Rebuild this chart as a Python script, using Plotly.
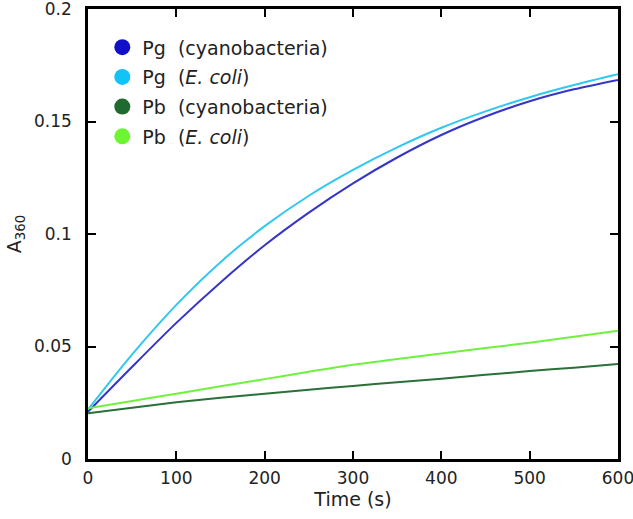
import plotly.graph_objects as go

# Time points (s)
time_s = [0, 50, 100, 150, 200, 250, 300, 350, 400, 450, 500, 550, 600]

# A360 readings
pg_cyano = [0.0210, 0.0410, 0.0605, 0.0785, 0.0950, 0.1095, 0.1225, 0.1340, 0.1440, 0.1522, 0.1590, 0.1643, 0.1685]
pg_ecoli = [0.0220, 0.0465, 0.0685, 0.0875, 0.1035, 0.1170, 0.1285, 0.1385, 0.1472, 0.1545, 0.1608, 0.1662, 0.1710]
pb_cyano = [0.0203, 0.0228, 0.0252, 0.0272, 0.0290, 0.0308, 0.0325, 0.0341, 0.0357, 0.0374, 0.0391, 0.0406, 0.0422]
pb_ecoli = [0.0225, 0.0258, 0.0290, 0.0323, 0.0355, 0.0388, 0.0419, 0.0444, 0.0469, 0.0493, 0.0517, 0.0543, 0.0570]

series_names = ["Pg  (cyanobacteria)", "Pg  (<i>E. coli</i>)", "Pb  (cyanobacteria)", "Pb  (<i>E. coli</i>)"]
series_values = [pg_cyano, pg_ecoli, pb_cyano, pb_ecoli]
line_colors = ["#3535c8", "#30c8f0", "#2a7038", "#70f040"]
legend_colors = ["#1010c8", "#10c4f8", "#1f6a2e", "#6cf530"]

x_ticks = [0, 100, 200, 300, 400, 500, 600]
y_ticks = [0, 0.05, 0.1, 0.15, 0.2]
y_ticklabels = ["0", "0.05", "0.1", "0.15", "0.2"]

FONT = "DejaVu Sans"

fig = go.Figure()
for name, vals, col in zip(series_names, series_values, line_colors):
    fig.add_trace(go.Scatter(x=time_s, y=vals, mode="lines", line=dict(color=col, width=2),
                             line_shape="spline", line_smoothing=0.8,
                             showlegend=False, hoverinfo="skip"))
for i, (name, col) in enumerate(zip(series_names, legend_colors)):
    fig.add_trace(go.Scatter(x=[None], y=[None], mode="markers", name=name,
                             marker=dict(color=col, size=18), legendgroup=str(i)))

axis_common = dict(showline=True, linecolor="black", linewidth=2.5, mirror="ticks",
                   ticks="inside", ticklen=8, tickwidth=2, tickcolor="black",
                   showgrid=False, zeroline=False, ticklabeloverflow="allow",
                   automargin=False)

fig.update_layout(
    width=633, height=519, autosize=False,
    margin=dict(l=88, r=15, t=9, b=60, autoexpand=False),
    paper_bgcolor="white", plot_bgcolor="white",
    font=dict(family=FONT, size=17, color="#222"),
    showlegend=True,
    legend=dict(x=0.027, y=0.957, xanchor="left", yanchor="top",
                font=dict(family=FONT, size=19, color="#222"),
                bgcolor="rgba(0,0,0,0)", tracegroupgap=2, itemwidth=30),
    xaxis=dict(range=[0, 600], tickvals=x_ticks, ticklabelstandoff=2,
               tickfont=dict(family=FONT, size=17, color="#222"),
               title=dict(text="Time (s)", font=dict(family=FONT, size=19), standoff=4),
               **axis_common),
    yaxis=dict(range=[0, 0.2], tickvals=y_ticks, ticktext=y_ticklabels, ticklabelstandoff=10,
               tickfont=dict(family=FONT, size=17, color="#222"),
               title=dict(text="A<sub>360</sub>", font=dict(family=FONT, size=19), standoff=8),
               **axis_common),
)

fig.write_html("out.html", config={"displayModeBar": False, "responsive": False})

# remove default page margin so the 633x519 figure fills the window exactly
with open("out.html", "r", encoding="utf-8") as f:
    html = f.read()
html = html.replace("<head>", "<head><style>html,body{margin:0;padding:0;overflow:hidden;}</style>", 1)
with open("out.html", "w", encoding="utf-8") as f:
    f.write(html)
